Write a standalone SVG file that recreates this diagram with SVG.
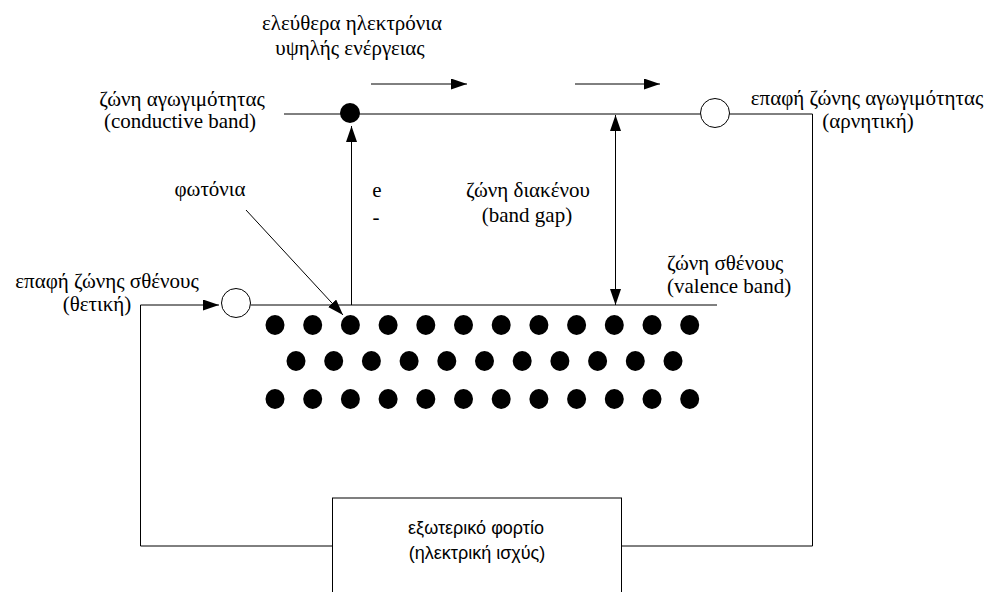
<svg xmlns="http://www.w3.org/2000/svg" width="991" height="592" viewBox="0 0 991 592">
  <style>
    .lbl { font-family: "Liberation Serif", "Times New Roman", serif; font-size: 21px; fill: #000; }
    .box { font-family: "Liberation Sans", Arial, sans-serif; font-size: 18px; fill: #000; }
    .mid { text-anchor: middle; }
    .wire { fill: none; stroke: #000; stroke-width: 1; }
    .dot { fill: #000; }
    .hole { fill: #fff; stroke: #000; stroke-width: 1; }
  </style>
  <defs>
    <marker id="head" markerUnits="userSpaceOnUse" markerWidth="16" markerHeight="12" refX="16" refY="5.5" orient="auto-start-reverse">
      <path d="M0,0 L16,5.5 L0,11 Z" fill="#000"/>
    </marker>
  </defs>
  <rect width="991" height="592" fill="#fff"/>

  <!-- connectors: band lines, external circuit, arrows -->
  <g id="connectors">
    <!-- conduction band and return to the load -->
    <path class="wire" d="M284,114 H812.5 V546 H621.5"/>
    <!-- valence band -->
    <path class="wire" d="M250.5,305 H717"/>
    <!-- load to valence contact -->
    <path class="wire" d="M332.5,546 H140.5 V305 H219" marker-end="url(#head)"/>
    <!-- electron drift arrows -->
    <path class="wire" d="M371,84 H467" marker-end="url(#head)"/>
    <path class="wire" d="M575,84 H660" marker-end="url(#head)"/>
    <!-- excitation of an electron -->
    <path class="wire" d="M351.5,305 V126" marker-end="url(#head)"/>
    <!-- band gap -->
    <path class="wire" d="M615.5,115 V305" marker-start="url(#head)" marker-end="url(#head)"/>
    <!-- incoming photons -->
    <path class="wire" d="M246,210 L343,315" marker-end="url(#head)"/>
  </g>

  <g id="electron-excited">
    <circle class="dot" cx="350" cy="113" r="10"/>
  </g>
  <g id="contact-conduction">
    <circle class="hole" cx="715" cy="113" r="14.5"/>
  </g>
  <g id="contact-valence">
    <circle class="hole" cx="236" cy="303" r="14.5"/>
  </g>

  <!-- bound electrons in the valence band -->
  <g id="lattice">
    <g id="row1">
      <ellipse class="dot" cx="275" cy="325" rx="9.5" ry="10"/>
      <ellipse class="dot" cx="312.7" cy="325" rx="9.5" ry="10"/>
      <ellipse class="dot" cx="350.4" cy="325" rx="9.5" ry="10"/>
      <ellipse class="dot" cx="388.1" cy="325" rx="9.5" ry="10"/>
      <ellipse class="dot" cx="425.8" cy="325" rx="9.5" ry="10"/>
      <ellipse class="dot" cx="463.5" cy="325" rx="9.5" ry="10"/>
      <ellipse class="dot" cx="501.2" cy="325" rx="9.5" ry="10"/>
      <ellipse class="dot" cx="538.9" cy="325" rx="9.5" ry="10"/>
      <ellipse class="dot" cx="576.6" cy="325" rx="9.5" ry="10"/>
      <ellipse class="dot" cx="614.3" cy="325" rx="9.5" ry="10"/>
      <ellipse class="dot" cx="652" cy="325" rx="9.5" ry="10"/>
      <ellipse class="dot" cx="689.7" cy="325" rx="9.5" ry="10"/>
    </g>
    <g id="row2">
      <ellipse class="dot" cx="296" cy="361" rx="9.5" ry="10"/>
      <ellipse class="dot" cx="333.7" cy="361" rx="9.5" ry="10"/>
      <ellipse class="dot" cx="371.4" cy="361" rx="9.5" ry="10"/>
      <ellipse class="dot" cx="409.1" cy="361" rx="9.5" ry="10"/>
      <ellipse class="dot" cx="446.8" cy="361" rx="9.5" ry="10"/>
      <ellipse class="dot" cx="484.5" cy="361" rx="9.5" ry="10"/>
      <ellipse class="dot" cx="522.2" cy="361" rx="9.5" ry="10"/>
      <ellipse class="dot" cx="559.9" cy="361" rx="9.5" ry="10"/>
      <ellipse class="dot" cx="597.6" cy="361" rx="9.5" ry="10"/>
      <ellipse class="dot" cx="635.3" cy="361" rx="9.5" ry="10"/>
      <ellipse class="dot" cx="673" cy="361" rx="9.5" ry="10"/>
    </g>
    <g id="row3">
      <ellipse class="dot" cx="275" cy="399" rx="9.5" ry="10"/>
      <ellipse class="dot" cx="312.7" cy="399" rx="9.5" ry="10"/>
      <ellipse class="dot" cx="350.4" cy="399" rx="9.5" ry="10"/>
      <ellipse class="dot" cx="388.1" cy="399" rx="9.5" ry="10"/>
      <ellipse class="dot" cx="425.8" cy="399" rx="9.5" ry="10"/>
      <ellipse class="dot" cx="463.5" cy="399" rx="9.5" ry="10"/>
      <ellipse class="dot" cx="501.2" cy="399" rx="9.5" ry="10"/>
      <ellipse class="dot" cx="538.9" cy="399" rx="9.5" ry="10"/>
      <ellipse class="dot" cx="576.6" cy="399" rx="9.5" ry="10"/>
      <ellipse class="dot" cx="614.3" cy="399" rx="9.5" ry="10"/>
      <ellipse class="dot" cx="652" cy="399" rx="9.5" ry="10"/>
      <ellipse class="dot" cx="689.7" cy="399" rx="9.5" ry="10"/>
    </g>
  </g>

  <!-- external load -->
  <g id="load">
    <rect x="332.5" y="498" width="289" height="120" fill="#fff" stroke="#000" stroke-width="1"/>
    <text class="box mid" x="476" y="534">εξωτερικό φορτίο</text>
    <text class="box mid" x="477" y="559">(ηλεκτρική ισχύς)</text>
  </g>

  <!-- labels -->
  <g id="label-free-electrons">
    <text class="lbl mid" x="352" y="30">ελεύθερα ηλεκτρόνια</text>
    <text class="lbl mid" x="350" y="55">υψηλής ενέργειας</text>
  </g>
  <g id="label-conduction">
    <text class="lbl mid" x="182" y="106">ζώνη αγωγιμότητας</text>
    <text class="lbl mid" x="180" y="128">(conductive band)</text>
  </g>
  <g id="label-contact-conduction">
    <text class="lbl mid" x="867" y="105">επαφή ζώνης αγωγιμότητας</text>
    <text class="lbl mid" x="868" y="128">(αρνητική)</text>
  </g>
  <g id="label-photons">
    <text class="lbl mid" x="210" y="196">φωτόνια</text>
  </g>
  <g id="label-electron">
    <text class="lbl mid" x="377" y="197">e</text>
    <text class="lbl mid" x="376" y="224">-</text>
  </g>
  <g id="label-gap">
    <text class="lbl mid" x="528" y="197">ζώνη διακένου</text>
    <text class="lbl mid" x="527" y="222">(band gap)</text>
  </g>
  <g id="label-valence">
    <text class="lbl" x="667" y="270">ζώνη σθένους</text>
    <text class="lbl" x="667" y="293">(valence band)</text>
  </g>
  <g id="label-contact-valence">
    <text class="lbl mid" x="107" y="288">επαφή ζώνης σθένους</text>
    <text class="lbl mid" x="97" y="311">(θετική)</text>
  </g>
</svg>
